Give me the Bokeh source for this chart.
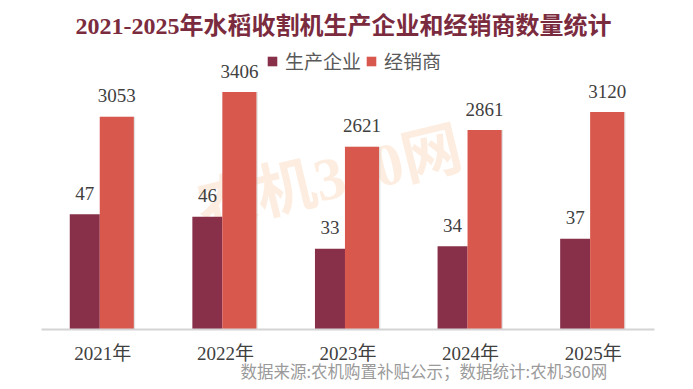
from bokeh.plotting import figure
from bokeh.models import Range1d, FactorRange, ColumnDataSource, Legend, LegendItem, Label, Title
from bokeh.transform import dodge
from bokeh.core.properties import value
from bokeh.embed import file_html
from bokeh.resources import INLINE

years = ["2021年", "2022年", "2023年", "2024年", "2025年"]
manufacturers = [47, 46, 33, 34, 37]
dealers = [3053, 3406, 2621, 2861, 3120]
series_names = ["生产企业", "经销商"]
title_text = "2021-2025年水稻收割机生产企业和经销商数量统计"
source_text = "数据来源:农机购置补贴公示；数据统计:农机360网"
watermark = "农机360网"

SERIF = "'Liberation Serif', 'Noto Sans CJK SC'"
SANS = "'Noto Sans CJK SC'"
DARK = "#88304A"
RED = "#D9584E"

src = ColumnDataSource(dict(
    year=years, m=manufacturers, d=dealers,
    ml=[str(v) for v in manufacturers], dl=[str(v) for v in dealers],
))
wm_src = ColumnDataSource(dict(year=[years[2]], y=[61.5], t=[watermark]))

p = figure(width=693, height=389, x_range=FactorRange(*years),
           y_range=Range1d(0, 134.3), output_backend="svg", toolbar_location=None,
           y_axis_location=None, min_border_left=41, min_border_right=39,
           min_border_top=0, min_border_bottom=60)
p.extra_y_ranges = {"dealers": Range1d(0, 4720)}
p.outline_line_color = None
p.xgrid.visible = False
p.ygrid.visible = False
p.background_fill_color = "white"

# watermark
p.text(x=dodge("year", -0.15, range=p.x_range), y="y", text="t", source=wm_src,
       angle=0.237, text_align="center", text_baseline="middle",
       text_font=value(SERIF), text_font_style="bold",
       text_font_size="60px", text_color="#F39A55", text_alpha=0.18)

# shadows
p.vbar(x=dodge("year", 0.125, range=p.x_range), top="d", width=0.278, source=src,
       y_range_name="dealers", fill_color="#CFCFCF", line_color=None, alpha=0.6)

r1 = p.vbar(x=dodge("year", -0.147, range=p.x_range), top="m", width=0.245, source=src,
            fill_color=DARK, line_color=None)
r2 = p.vbar(x=dodge("year", 0.114, range=p.x_range), top="d", width=0.278, source=src,
            y_range_name="dealers", fill_color=RED, line_color=None)

p.text(x=dodge("year", -0.147, range=p.x_range), y="m", text="ml", source=src,
       text_align="center", text_baseline="alphabetic", y_offset=-21,
       text_font=value(SERIF), text_font_size="19px", text_color="#404040")
p.text(x=dodge("year", 0.114, range=p.x_range), y="d", text="dl", source=src,
       y_range_name="dealers", text_align="center", text_baseline="alphabetic",
       y_offset=-21, text_font=value(SERIF), text_font_size="19px", text_color="#404040")

ax = p.xaxis[0]
ax.axis_line_color = "#D4D4D4"
ax.axis_line_width = 2
ax.major_tick_line_color = None
ax.minor_tick_line_color = None
ax.major_label_text_font = SERIF
ax.major_label_text_font_size = "19px"
ax.major_label_text_color = "#404040"
ax.major_label_standoff = 7

legend = Legend(items=[LegendItem(label=series_names[0], renderers=[r1]),
                       LegendItem(label=series_names[1], renderers=[r2])],
                orientation="horizontal", location=(225, 255),
                label_text_font=SANS, label_text_font_size="19px",
                label_text_color="#595959", glyph_width=12, glyph_height=12,
                label_standoff=7, spacing=4, padding=0, margin=0,
                background_fill_alpha=0, border_line_color=None)
p.add_layout(legend)

p.add_layout(Label(x=302, y=304, x_units="screen", y_units="screen", text=title_text,
                   text_align="center", text_baseline="middle", text_font=SERIF,
                   text_font_size="24px", text_font_style="bold", text_color="#7B2B3E"))

foot = Title(text=source_text, align="left", offset=199, text_font=SANS,
             text_font_size="16.5px", text_font_style="normal", text_color="#9A9A9A",
             standoff=-20)
p.add_layout(foot, "below")

open("out.html", "w").write(file_html(p, INLINE))
